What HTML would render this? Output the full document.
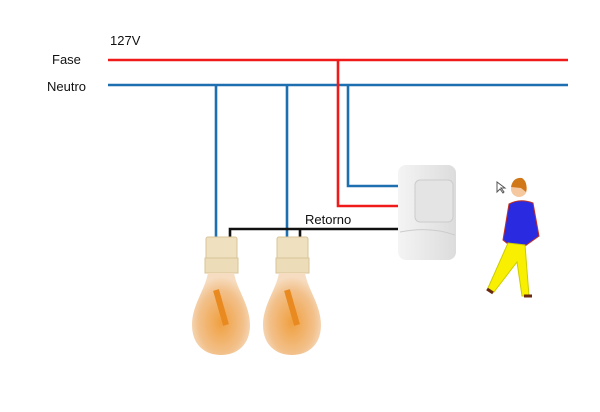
<!DOCTYPE html>
<html><head><style>
body{margin:0;background:#fff;width:600px;height:412px;overflow:hidden;font-family:"Liberation Sans",sans-serif}
.t{position:absolute;font-size:13px;color:#111}
</style></head><body>
<div class="t" style="left:110px;top:33px">127V</div>
<div class="t" style="left:52px;top:52px">Fase</div>
<div class="t" style="left:47px;top:79px">Neutro</div>
<div class="t" style="left:305px;top:212px">Retorno</div>
<svg width="600" height="412" style="position:absolute;left:0;top:0">
<defs>
<radialGradient id="g" cx="0.5" cy="0.6" r="0.55"><stop offset="0" stop-color="#f0a040"/><stop offset="0.7" stop-color="#f2c08a"/><stop offset="1" stop-color="#f6dcc0"/></radialGradient>
<linearGradient id="s" x1="0" x2="1"><stop offset="0" stop-color="#f4f4f4"/><stop offset="1" stop-color="#dcdcdc"/></linearGradient>
</defs>
<g fill="none" stroke-width="2.6">
<path d="M108 60H568" stroke="#f01a1a"/>
<path d="M108 85H568" stroke="#1e6fb0"/>
<path d="M338 60V206H400" stroke="#f01a1a"/>
<path d="M348 85V186H400" stroke="#1e6fb0"/>
<path d="M216 85V242M287 85V242" stroke="#1e6fb0"/>
<path d="M230 242V229H405M300 242V229" stroke="#111"/>
</g>
<rect x="398" y="165" width="58" height="95" rx="8" fill="url(#s)"/>
<rect x="415" y="180" width="38" height="42" rx="5" fill="#e4e4e4" stroke="#ccc"/>
<path d="M400 232Q430 226 455 235" stroke="#ccc" fill="none"/>
<g id="b">
<rect x="206" y="237" width="31" height="24" rx="2" fill="#efe0c0" stroke="#d8c49a"/>
<rect x="205" y="258" width="33" height="15" fill="#ecdcb8" stroke="#d8c49a"/>
<path d="M208 273C205 290 192 305 192 325C192 345 205 355 221 355C237 355 250 345 250 325C250 305 237 290 234 273Z" fill="url(#g)"/>
<path d="M216 290L226 325" stroke="#e88a20" stroke-width="6"/>
</g>
<use href="#b" x="71"/>
<path d="M497 182l0 10 3-3 3 4 1-1-3-4 4 0z" fill="#fff" stroke="#555"/>
<circle cx="519" cy="189" r="8" fill="#f5c8a0"/>
<path d="M511 187Q513 177 522 178Q528 182 526 192L521 188Z" fill="#d07818"/>
<path d="M509 204Q520 198 533 203L539 236L525 246L508 244L503 240Z" fill="#2a2ae0" stroke="#c03020"/>
<path d="M508 243L525 245L529 296L522 296L517 262L494 292L488 288Z" fill="#f8f000" stroke="#cccc00"/>
<path d="M487 289l6 4M524 296l8 0" stroke="#6a2a10" stroke-width="3"/>
</svg>
</body></html>
